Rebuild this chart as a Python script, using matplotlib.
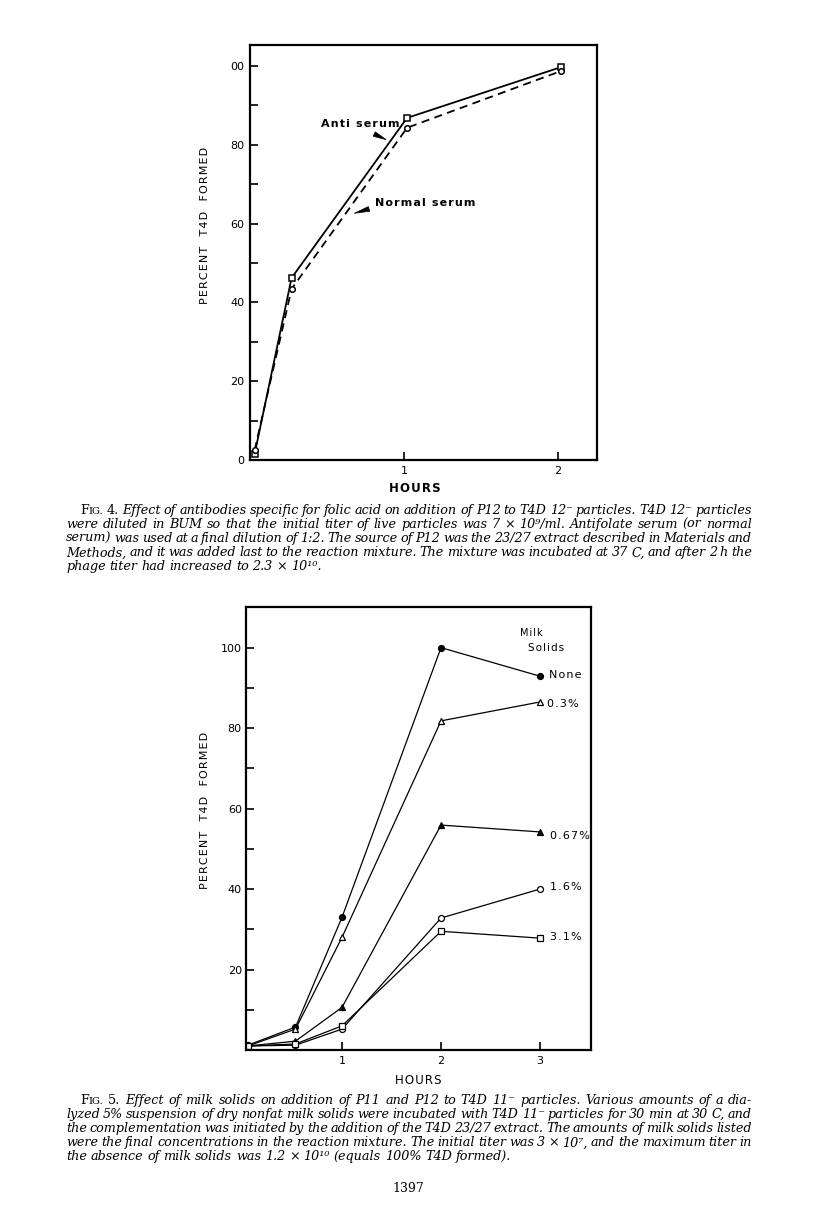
import matplotlib.pyplot as plt
from matplotlib.ticker import FixedLocator

# ---- data ----
# Fig. 4
hours4 = [0.03, 0.27, 1.02, 2.02]
anti_serum = [1.5, 46.2, 86.8, 99.7]
normal_serum = [2.5, 43.4, 84.3, 98.7]

# Fig. 5
hours5 = [0.05, 0.53, 1.0, 2.0, 3.0]
milk_none = [1.2, 5.7, 33.0, 100.0, 92.9]
milk_03 = [1.0, 5.2, 28.0, 81.8, 86.5]
milk_067 = [1.0, 2.2, 10.6, 55.9, 54.2]
milk_16 = [1.0, 1.2, 5.2, 32.8, 40.0]
milk_31 = [1.0, 1.5, 6.0, 29.5, 27.8]
milk_labels = ["None", "0.3%", "0.67%", "1.6%", "3.1%"]

caption4 = [
    "FIG. 4. Effect of antibodies specific for folic acid on addition of P12 to T4D 12\u207b particles. T4D 12\u207b particles",
    "were diluted in BUM so that the initial titer of live particles was 7 \u00d7 10\u2079/ml. Antifolate serum (or normal",
    "serum) was used at a final dilution of 1:2. The source of P12 was the 23/27 extract described in Materials and",
    "Methods, and it was added last to the reaction mixture. The mixture was incubated at 37 C, and after 2 h the",
    "phage titer had increased to 2.3 \u00d7 10\u00b9\u2070.",
]
caption5 = [
    "FIG. 5. Effect of milk solids on addition of P11 and P12 to T4D 11\u207b particles. Various amounts of a dia-",
    "lyzed 5% suspension of dry nonfat milk solids were incubated with T4D 11\u207b particles for 30 min at 30 C, and",
    "the complementation was initiated by the addition of the T4D 23/27 extract. The amounts of milk solids listed",
    "were the final concentrations in the reaction mixture. The initial titer was 3 \u00d7 10\u2077, and the maximum titer in",
    "the absence of milk solids was 1.2 \u00d7 10\u00b9\u2070 (equals 100% T4D formed).",
]

W, H = 816, 1211
plt.rcParams['font.family'] = ['DejaVu Sans']
fig = plt.figure(figsize=(W / 100, H / 100), dpi=100)
fig.patch.set_facecolor('white')


def spaced(s):
    # letter spacing like the old lettering sets
    return "\u200a".join(s)


def style_axes(ax):
    for sp in ax.spines.values():
        sp.set_linewidth(1.6)
    ax.tick_params(which='both', direction='in', length=6, width=1.2,
                   labelsize=8, pad=4)


def ftext(x, y, s, **kw):
    # place text by pixel position on the page
    return fig.text(x / W, 1 - y / H, s, **kw)


# ---------------- Fig. 4 ----------------
ax1 = fig.add_axes([250 / W, 1 - 460 / H, 347 / W, 415 / H])
ax1.plot(hours4, anti_serum, '-', color='black', lw=1.3,
         marker='s', ms=4, mfc='white', mec='black', mew=1.1)
ax1.plot(hours4, normal_serum, '--', color='black', lw=1.3, dashes=(4.5, 3),
         marker='o', ms=4, mfc='white', mec='black', mew=1.1)
ax1.set_xlim(0, 2.253)
ax1.set_ylim(0, 105.3)
ax1.set_xticks([1, 2])
ax1.set_xticklabels(['1', '2'])
ax1.set_yticks([0, 20, 40, 60, 80, 100])
ax1.set_yticklabels(['0', '20', '40', '60', '80', '00'])
ax1.yaxis.set_minor_locator(FixedLocator([10, 30, 50, 70, 90]))
style_axes(ax1)

ax1.text(0.46, 85.3, spaced("Anti serum"), fontsize=8, fontweight='bold', va='center')
ax1.annotate("", xy=(0.90, 81.0), xytext=(0.79, 83.0),
             arrowprops=dict(arrowstyle='wedge,tail_width=0.35', color='black', lw=0.5))
ax1.text(0.81, 65.2, spaced("Normal serum"), fontsize=8, fontweight='bold', va='center')
ax1.annotate("", xy=(0.66, 62.4), xytext=(0.79, 63.9),
             arrowprops=dict(arrowstyle='wedge,tail_width=0.35', color='black', lw=0.5))

ftext(205, 225, spaced("PERCENT  T4D  FORMED"), rotation=90, fontsize=8,
      ha='center', va='center')
ftext(415, 489, spaced("HOURS"), fontsize=8.5, fontweight='bold', ha='center', va='center')

# ---------------- Fig. 5 ----------------
ax2 = fig.add_axes([246 / W, 1 - 1050 / H, 345 / W, 443 / H])
series5 = [
    (milk_none, 'o', 'black'),
    (milk_03, '^', 'white'),
    (milk_067, '^', 'black'),
    (milk_16, 'o', 'white'),
    (milk_31, 's', 'white'),
]
for vals, mk, face in series5:
    ax2.plot(hours5, vals, '-', color='black', lw=0.9,
             marker=mk, ms=4.3, mfc=face, mec='black', mew=0.9)
ax2.set_xlim(0.03, 3.515)
ax2.set_ylim(0, 110.1)
ax2.set_xticks([1, 2, 3])
ax2.set_xticklabels(['1', '2', '3'])
ax2.set_yticks([20, 40, 60, 80, 100])
ax2.yaxis.set_minor_locator(FixedLocator([10, 30, 50, 70, 90]))
style_axes(ax2)
ax2.tick_params(axis='y', pad=3)

ax2.text(2.80, 103.6, spaced("Milk"), fontsize=7, va='center')
ax2.text(2.88, 99.9, spaced("Solids"), fontsize=7.5, va='center')
label_pos = [(3.09, 93.2), (3.07, 86.0), (3.10, 53.2), (3.10, 40.5), (3.10, 28.1)]
for (lx, ly), lab in zip(label_pos, milk_labels):
    ax2.text(lx, ly, spaced(lab), fontsize=8, va='center')

ftext(205, 810, spaced("PERCENT  T4D  FORMED"), rotation=90, fontsize=8,
      ha='center', va='center')
ftext(418, 1080, spaced("HOURS"), fontsize=8.5, ha='center', va='center')

# ---------------- captions, set justified word by word ----------------
renderer = fig.canvas.get_renderer()
cap_size = 9.2
serif = ['DejaVu Serif']


def put_word(word, x, y, upright):
    # returns the list of artists and width in pixels
    arts = []
    if word == "FIG.":
        parts = [("F", cap_size), ("IG.", cap_size * 0.78)]
    else:
        parts = [(word, cap_size)]
    cx = x
    for txt, sz in parts:
        t = ftext(cx, y, txt, fontsize=sz, family=serif,
                  style='normal' if upright else 'italic', va='baseline')
        w = t.get_window_extent(renderer).width
        arts.append(t)
        cx += w
    return arts, cx - x


def put_line(line, x0, x1, y, justify, n_upright=0, indent=0):
    words = line.split(' ')
    placed = []
    total = 0
    for i, wd in enumerate(words):
        arts, w = put_word(wd, 0, y, i < n_upright)
        placed.append((arts, w))
        total += w
    if justify and len(words) > 1:
        gap = (x1 - x0 - indent - total) / (len(words) - 1)
    else:
        gap = cap_size * 0.3 * 100 / 72
    x = x0 + indent
    for arts, w in placed:
        cx = x
        for a in arts:
            a.set_x(cx / W)
            cx += a.get_window_extent(renderer).width
        x += w + gap


def put_caption(lines, top):
    for i, ln in enumerate(lines):
        last = i == len(lines) - 1
        put_line(ln, 66, 752, top + i * 14.1, not last,
                 n_upright=2 if i == 0 else 0, indent=14 if i == 0 else 0)


put_caption(caption4, 514)
put_caption(caption5, 1104)

ftext(408, 1192, "1397", fontsize=9, family=serif, ha='center', va='baseline')

fig.savefig('out.png', dpi=100, facecolor='white')
